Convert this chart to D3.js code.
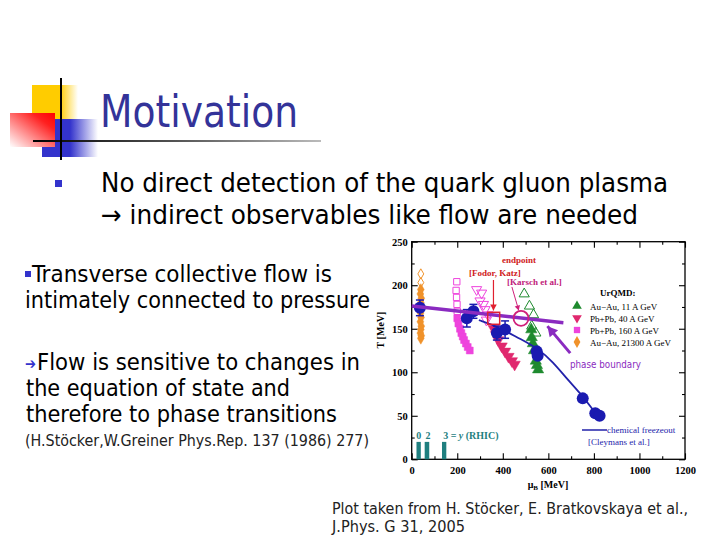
<!DOCTYPE html>
<html><head><meta charset="utf-8">
<script src="https://cdn.jsdelivr.net/npm/d3@7"></script>
<style>html,body{margin:0;padding:0;background:#fff;}svg{display:block;}</style>
</head><body>
<svg id="s" width="720" height="540"></svg>
<script>
// ---------- data ----------
const xTicks = [0, 200, 400, 600, 800, 1000, 1200];
const yTicks = [0, 50, 100, 150, 200, 250];
// chemical freeze-out data (mu_B, T, error)
const freezeMu  = [36, 242, 271, 374, 410, 549, 553, 751, 806, 825];
const freezeT   = [174, 162, 170, 145, 149, 124, 119, 70, 53, 50];
const freezeErr = [9, 10, 8, 8, 10, 0, 0, 0, 0, 0];
// chemical freeze-out curve (Cleymans et al.)
const curveMu = [295, 350, 400, 450, 500, 560, 620, 680, 740, 790, 820];
const curveT  = [160, 155, 149, 142, 135, 126, 112, 93, 76, 59, 48];
// phase boundary line
const boundaryMu = [0, 666];
const boundaryT  = [176, 157];
// UrQMD Au-Au 11 A GeV (green triangles)
const auau11Mu = [525, 527, 532, 537, 545, 550, 555];
const auau11T  = [149, 140, 133, 125, 113, 108, 103];
const auau11OpenMu = [494, 517, 535, 527, 545];
const auau11OpenT  = [190, 176, 166, 153, 145];
// UrQMD Pb+Pb 40 A GeV (down triangles)
const pbpb40Mu = [360, 370, 380, 395, 410, 425, 440, 452];
const pbpb40T  = [150, 143, 137, 130, 124, 118, 113, 109];
const pbpb40OpenMu = [285, 307, 300, 315, 322, 335, 328];
const pbpb40OpenT  = [195, 191, 182, 178, 172, 166, 160];
// UrQMD Pb+Pb 160 A GeV (squares)
const pbpb160Mu = [200, 205, 212, 218, 224, 230, 238, 246, 255];
const pbpb160T  = [162, 156, 150, 145, 141, 137, 133, 129, 125];
const pbpb160OpenMu = [198, 195, 197, 199, 200];
const pbpb160OpenT  = [204, 194, 186, 178, 170];
// UrQMD Au-Au 21300 A GeV (diamonds)
const auau21Mu = [40, 38, 42, 40, 39, 41, 38, 42, 40, 38, 42, 40];
const auau21T  = [195, 190, 185, 180, 168, 163, 158, 153, 149, 145, 142, 139];
const auau21OpenMu = [40, 40];
const auau21OpenT  = [203, 213];
// RHIC rapidity bins
const rhicMu0 = [21, 57, 133];
const rhicMu1 = [40, 77, 152];
const rhicT = 20;
// endpoints
const fodorKatz = [360, 162];
const karsch = [480, 162];
const legendLabels = ["Au\u2212Au, 11 A GeV", "Pb+Pb, 40 A GeV", "Pb+Pb, 160 A GeV", "Au\u2212Au, 21300 A GeV"];

// ---------- slide ----------
const svg = d3.select("#s");
const defs = svg.append("defs");
function lg(id, x1, y1, x2, y2, stops) {
  const g = defs.append("linearGradient").attr("id", id)
    .attr("x1", x1).attr("y1", y1).attr("x2", x2).attr("y2", y2);
  stops.forEach(s => g.append("stop").attr("offset", s[0]).attr("stop-color", s[1]).attr("stop-opacity", s[2] == null ? 1 : s[2]));
}
lg("gy", "0", "0", "1", "0", [[0, "#ffcc00"], [0.6, "#ffcc00"], [1, "#ffffff"]]);
lg("gr", "0", "1", "1", "0", [[0, "#ffffff"], [0.75, "#ff2020"], [1, "#ff0000"]]);
lg("gb", "0", "0", "1", "0", [[0, "#3333cc"], [0.5, "#3333cc"], [1, "#ffffff"]]);
lg("gl", "0", "0", "1", "0", [[0, "#000000"], [0.5, "#555555"], [1, "#bbbbbb"]]);

svg.append("rect").attr("x", 32).attr("y", 85).attr("width", 46).attr("height", 36).attr("fill", "url(#gy)");
svg.append("rect").attr("x", 42).attr("y", 119).attr("width", 56).attr("height", 38).attr("fill", "url(#gb)");
svg.append("rect").attr("x", 10).attr("y", 113).attr("width", 45).attr("height", 34).attr("fill", "url(#gr)");
svg.append("rect").attr("x", 33).attr("y", 140).attr("width", 288).attr("height", 2).attr("fill", "url(#gl)");
svg.append("rect").attr("x", 60).attr("y", 78).attr("width", 2).attr("height", 82).attr("fill", "#000");

const F = "Tahoma, 'DejaVu Sans Condensed', 'Liberation Sans', sans-serif";
function txt(str, x, y, size, len, color, fam) {
  return svg.append("text").attr("x", x).attr("y", y).attr("font-family", fam || F)
    .attr("font-size", size).attr("fill", color || "#000")
    .attr("textLength", len).attr("lengthAdjust", "spacingAndGlyphs").text(str);
}
txt("Motivation", 100, 127, 44, 198, "#333399");

svg.append("rect").attr("x", 55).attr("y", 180).attr("width", 7).attr("height", 7).attr("fill", "#3333cc");
txt("No direct detection of the quark gluon plasma", 101, 192, 26, 567);
txt("\u2192 indirect observables like flow are needed", 101, 224, 26, 537);

svg.append("rect").attr("x", 25).attr("y", 271).attr("width", 6).attr("height", 6).attr("fill", "#3333cc");
txt("Transverse collective flow is", 32, 282, 23.5, 300);
txt("intimately connected to pressure", 25, 308, 23.5, 345);
txt("\u2794", 25, 369, 15, 11, "#3333cc");
txt("Flow is sensitive to changes in", 37, 370, 23.5, 323);
txt("the equation of state and", 26, 396, 23.5, 264);
txt("therefore to phase transitions", 26, 422, 23.5, 311);
txt("(H.St\u00f6cker,W.Greiner Phys.Rep. 137 (1986) 277)", 25, 446, 15.5, 344, "#222");
txt("Plot taken from H. St\u00f6cker, E. Bratkovskaya et al.,", 332, 514, 15.5, 356, "#222");
txt("J.Phys. G 31, 2005", 332, 532, 15.5, 133, "#222");

// ---------- chart ----------
const x = d3.scaleLinear().domain([0, 1200]).range([411.7, 685]);
const y = d3.scaleLinear().domain([0, 250]).range([459.3, 241.7]);
const SERIF = "'Liberation Serif', 'DejaVu Serif', serif";
const g = svg.append("g");

// frame
g.append("rect").attr("x", x(0)).attr("y", y(250)).attr("width", x(1200) - x(0)).attr("height", y(0) - y(250))
  .attr("fill", "none").attr("stroke", "#000").attr("stroke-width", 1.3);

// axes with inner ticks
function axis(gen, tr, vals, size, labels, pad) {
  const a = g.append("g").attr("transform", tr).call(gen.tickValues(vals).tickSize(size).tickPadding(pad || 3).tickFormat(d3.format("d")));
  a.select(".domain").remove();
  a.selectAll("line").attr("stroke", "#000").attr("stroke-width", 1.1);
  if (labels) a.selectAll("text").attr("font-family", SERIF).attr("font-weight", "bold").attr("font-size", 10.5).attr("fill", "#000");
  else a.selectAll("text").remove();
  return a;
}
const minorX = d3.range(100, 1200, 200), minorY = d3.range(25, 250, 50);
axis(d3.axisBottom(x), `translate(0,${y(0)})`, xTicks, -6, true, 7);
axis(d3.axisBottom(x), `translate(0,${y(0)})`, minorX, -3, false);
axis(d3.axisTop(x), `translate(0,${y(250)})`, xTicks, -6, false);
axis(d3.axisTop(x), `translate(0,${y(250)})`, minorX, -3, false);
axis(d3.axisLeft(y), `translate(${x(0)},0)`, yTicks, -6, true, 4);
axis(d3.axisLeft(y), `translate(${x(0)},0)`, minorY, -3, false);
axis(d3.axisRight(y), `translate(${x(1200)},0)`, yTicks, -6, false);
axis(d3.axisRight(y), `translate(${x(1200)},0)`, minorY, -3, false);

// axis titles
g.append("text").attr("transform", `translate(384,${330}) rotate(-90)`).attr("text-anchor", "middle")
  .attr("font-family", SERIF).attr("font-weight", "bold").attr("font-size", 10).text("T [MeV]");
const xt = g.append("text").attr("x", 548).attr("y", 488).attr("text-anchor", "middle")
  .attr("font-family", SERIF).attr("font-weight", "bold").attr("font-size", 10);
xt.append("tspan").text("\u03bc");
xt.append("tspan").attr("font-size", 7).attr("dy", 2).text("B");
xt.append("tspan").attr("dy", -2).text(" [MeV]");

// RHIC bars
const teal = "#1f7f7f";
rhicMu0.forEach((m, i) => {
  g.append("rect").attr("x", x(m)).attr("y", y(rhicT)).attr("width", x(rhicMu1[i]) - x(m)).attr("height", y(0) - y(rhicT)).attr("fill", teal);
});
g.append("text").attr("x", x(31)).attr("y", 439).attr("text-anchor", "middle").attr("font-family", SERIF).attr("font-weight", "bold").attr("font-size", 10).attr("fill", teal).text("0");
g.append("text").attr("x", x(72)).attr("y", 439).attr("text-anchor", "middle").attr("font-family", SERIF).attr("font-weight", "bold").attr("font-size", 10).attr("fill", teal).text("2");
g.append("text").attr("x", x(138)).attr("y", 439).attr("font-family", SERIF).attr("font-weight", "bold").attr("font-size", 10).attr("fill", teal)
  .html('3 = <tspan font-style="italic">y</tspan>  (RHIC)');

const sym = (type, size) => d3.symbol().type(type).size(size)();
function markers(mu, T, type, size, color, filled, rot) {
  mu.forEach((m, i) => {
    g.append("path").attr("d", sym(type, size))
      .attr("transform", `translate(${x(m)},${y(T[i])})` + (rot ? ` rotate(${rot})` : ""))
      .attr("fill", filled ? color : "none").attr("stroke", color).attr("stroke-width", filled ? 0.5 : 1);
  });
}
const cGreen = "#1e8a2e", cRed = "#e0286e", cPink = "#ee44dd", cOrange = "#f0922a";
markers(auau21OpenMu, auau21OpenT, d3.symbolDiamond, 30, cOrange, false);
markers(auau21Mu, auau21T, d3.symbolDiamond, 40, cOrange, true);
markers(pbpb160OpenMu, pbpb160OpenT, d3.symbolSquare, 40, cPink, false);
markers(pbpb160Mu, pbpb160T, d3.symbolSquare, 48, cPink, true);
markers(pbpb40OpenMu, pbpb40OpenT, d3.symbolTriangle, 45, cPink, false, 180);
markers(pbpb40Mu, pbpb40T, d3.symbolTriangle, 55, cRed, true, 180);
markers(auau11OpenMu, auau11OpenT, d3.symbolTriangle, 45, cGreen, false);
markers(auau11Mu, auau11T, d3.symbolTriangle, 55, cGreen, true);

// freeze-out curve
const line = d3.line().x(d => x(d[0])).y(d => y(d[1])).curve(d3.curveBasis);
g.append("path").attr("d", line(curveMu.map((m, i) => [m, curveT[i]])))
  .attr("fill", "none").attr("stroke", "#2222aa").attr("stroke-width", 1.8);

// freeze-out data with error bars
const cBlue = "#1a1ab0";
freezeMu.forEach((m, i) => {
  if (freezeErr[i] > 0) {
    g.append("line").attr("x1", x(m)).attr("x2", x(m)).attr("y1", y(freezeT[i] - freezeErr[i])).attr("y2", y(freezeT[i] + freezeErr[i]))
      .attr("stroke", cBlue).attr("stroke-width", 1.5);
    [-1, 1].forEach(s => g.append("line").attr("x1", x(m) - 4).attr("x2", x(m) + 4)
      .attr("y1", y(freezeT[i] + s * freezeErr[i])).attr("y2", y(freezeT[i] + s * freezeErr[i])).attr("stroke", cBlue).attr("stroke-width", 1.5));
  }
  g.append("circle").attr("cx", x(m)).attr("cy", y(freezeT[i])).attr("r", 6).attr("fill", cBlue);
});

// phase boundary
const cPurple = "#8a2bc0";
g.append("path").attr("d", d3.line().x(d => x(d[0])).y(d => y(d[1]))(boundaryMu.map((m, i) => [m, boundaryT[i]])))
  .attr("stroke", cPurple).attr("stroke-width", 3.5).attr("fill", "none");

// endpoints
g.append("rect").attr("x", x(fodorKatz[0]) - 6).attr("y", y(fodorKatz[1]) - 6).attr("width", 12).attr("height", 12)
  .attr("fill", "none").attr("stroke", "#e02030").attr("stroke-width", 1.5);
g.append("circle").attr("cx", x(karsch[0])).attr("cy", y(karsch[1])).attr("r", 7.5)
  .attr("fill", "none").attr("stroke", "#d0207a").attr("stroke-width", 1.8);

// arrows
function arrow(m0, t0, m1, t1, color, w, mk) {
  g.append("line").attr("x1", x(m0)).attr("y1", y(t0)).attr("x2", x(m1)).attr("y2", y(t1))
    .attr("stroke", color).attr("stroke-width", w);
  const ang = Math.atan2(y(t1) - y(t0), x(m1) - x(m0));
  const L = mk, W = mk * 0.55;
  const px = x(m1), py = y(t1);
  const p = [[px, py],
    [px - L * Math.cos(ang) + W * Math.sin(ang), py - L * Math.sin(ang) - W * Math.cos(ang)],
    [px - L * Math.cos(ang) - W * Math.sin(ang), py - L * Math.sin(ang) + W * Math.cos(ang)]];
  g.append("path").attr("d", "M" + p.join("L") + "Z").attr("fill", color);
}
arrow(359, 206, 359, 171, "#e02030", 1.2, 6);
arrow(440, 198, 470, 171, "#d0207a", 1, 5);
arrow(696, 122, 596, 153, cPurple, 3, 10);

// labels
const lab = (s, xx, yy, col, size, fam, bold) => g.append("text").attr("x", xx).attr("y", yy).attr("font-family", fam || SERIF)
  .attr("font-weight", bold ? "bold" : "normal").attr("font-size", size).attr("fill", col).text(s);
lab("endpoint", 502, 263, "#d02020", 9, SERIF, true);
lab("[Fodor, Katz]", 469, 276, "#d02020", 9, SERIF, true);
lab("[Karsch et al.]", 507, 285, "#c0207a", 9, SERIF, true);
lab("phase boundary", 570, 368, "#8a2bc0", 10, F).attr("textLength", 71).attr("lengthAdjust", "spacingAndGlyphs");
g.append("line").attr("x1", 582).attr("x2", 607).attr("y1", 430).attr("y2", 430).attr("stroke", "#2222aa").attr("stroke-width", 1.5);
lab("chemical freezeout", 607, 433, "#2222aa", 9, SERIF);
lab("[Cleymans et al.]", 588, 445, "#2222aa", 9, SERIF);
lab("UrQMD:", 600, 296, "#000", 9, SERIF, true);

const legTypes = [[d3.symbolTriangle, cGreen, 0], [d3.symbolTriangle, cRed, 180], [d3.symbolSquare, cPink, 0], [d3.symbolDiamond, cOrange, 0]];
const legY = [306, 318, 330, 342];
legendLabels.forEach((l, i) => {
  g.append("path").attr("d", sym(legTypes[i][0], 40)).attr("transform", `translate(577,${legY[i]}) rotate(${legTypes[i][2]})`).attr("fill", legTypes[i][1]);
  lab(l, 590, legY[i] + 3.5, "#000", 9, SERIF, false);
});
</script>
</body></html>
